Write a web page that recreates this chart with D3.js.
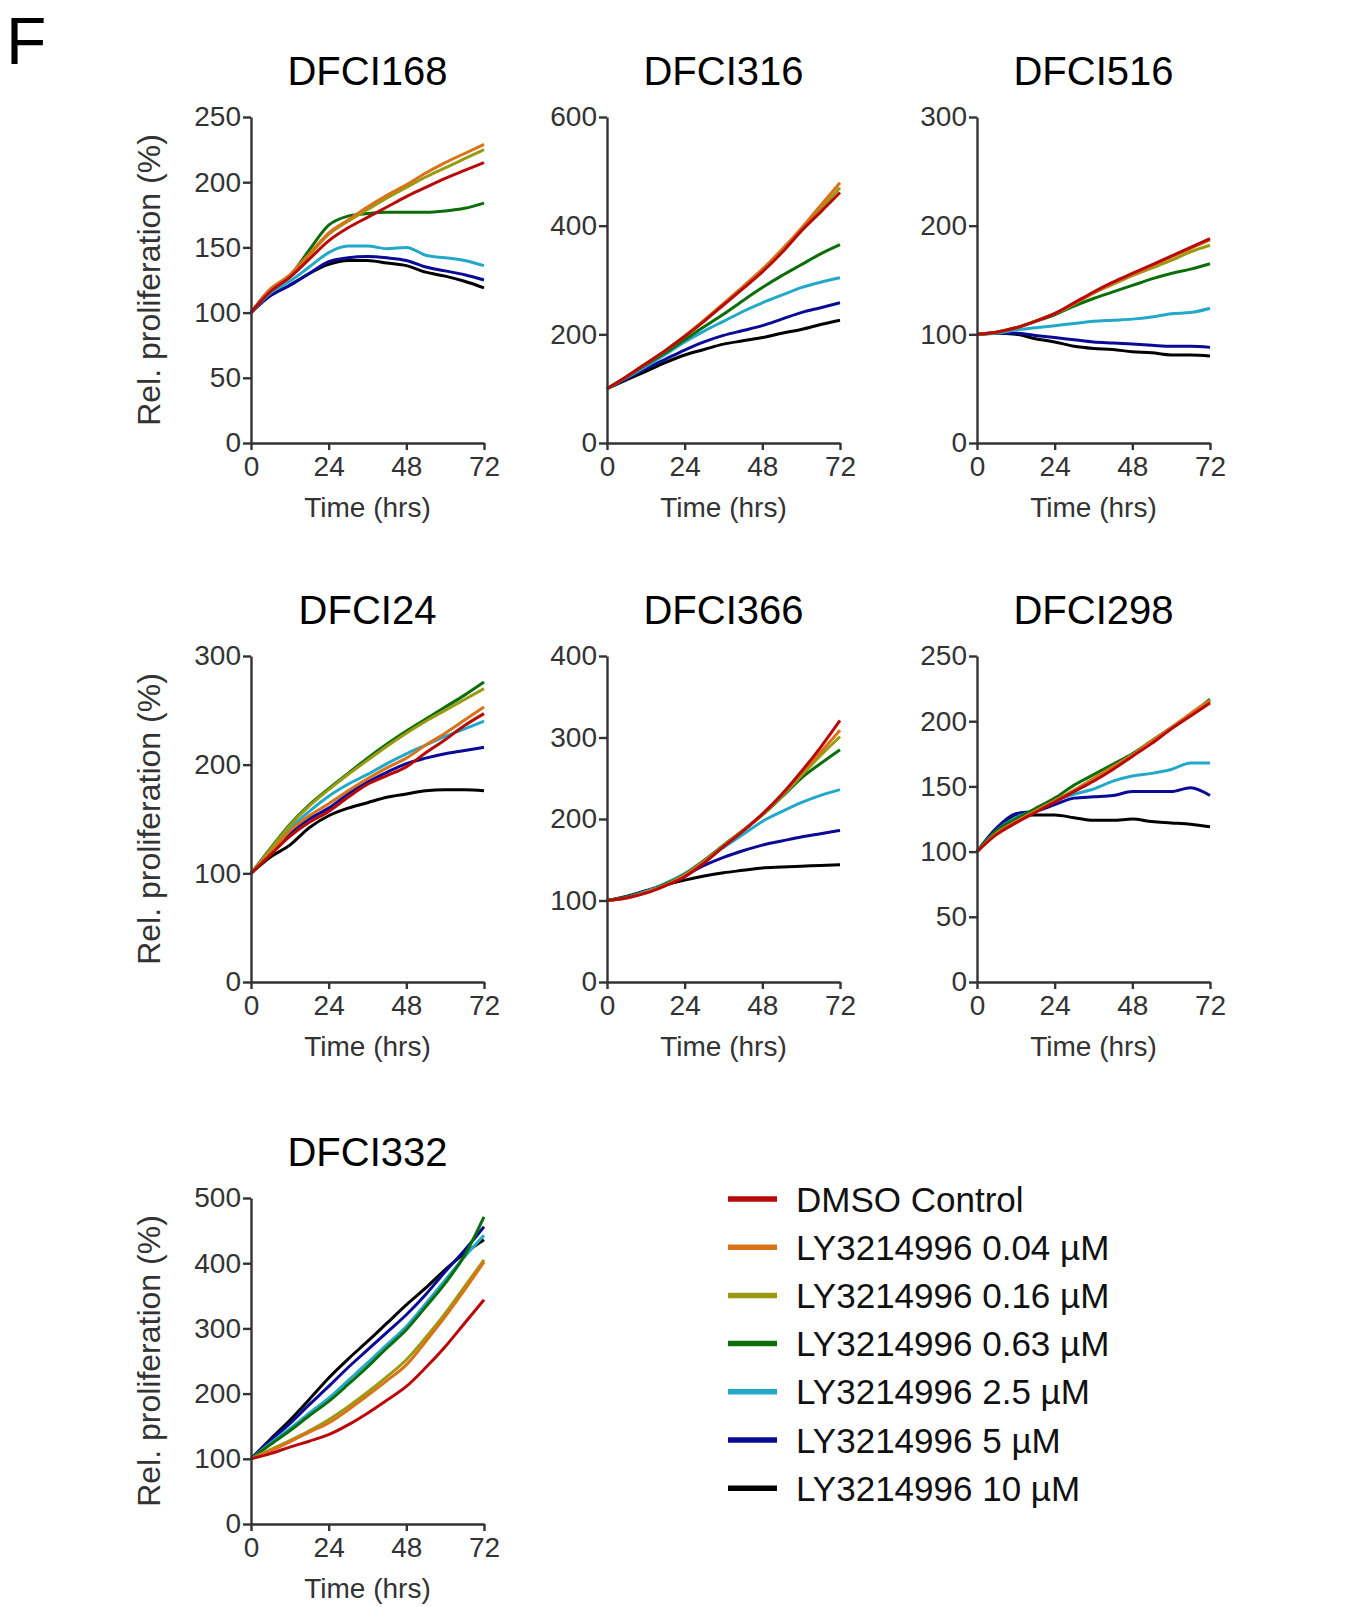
<!DOCTYPE html>
<html>
<head>
<meta charset="utf-8">
<script src="https://cdn.jsdelivr.net/npm/d3@7"></script>
<style>
  body { margin: 0; background: #fff; }
  svg { display: block; font-family: "Liberation Sans", Arial, sans-serif; }
</style>
</head>
<body>
<svg id="fig" width="1352" height="1607"></svg>
<script>
// time points (hrs) shared by every series
const hours = [0, 6, 12, 18, 24, 30, 36, 42, 48, 54, 60, 66, 72];
const xTicks = [0, 24, 48, 72];

const seriesNames = ["DMSO Control", "LY3214996 0.04 µM", "LY3214996 0.16 µM", "LY3214996 0.63 µM",
                     "LY3214996 2.5 µM", "LY3214996 5 µM", "LY3214996 10 µM"];
const seriesColors = ["#b80a0a", "#d9731a", "#9a9a12", "#0b6e0b", "#22a9c9", "#0a0a96", "#000000"];

// one row per series, same order as seriesNames
const dfci168 = [
  [100, 116, 127, 141, 155, 165, 173, 181, 189, 196, 203, 209, 215],
  [100, 118, 129, 145, 161, 171, 181, 190, 198, 207, 215, 222, 229],
  [100, 118, 128, 144, 160, 170, 179, 188, 196, 204, 211, 218, 225],
  [100, 118, 128, 148, 167, 174, 176, 177, 177, 177, 178, 180, 184],
  [100, 115, 124, 135, 146, 151, 151, 149, 150, 144, 142, 140, 136],
  [100, 113, 121, 130, 139, 142, 143, 142, 140, 135, 132, 129, 125],
  [100, 113, 121, 130, 137, 140, 140, 138, 136, 131, 128, 124, 119]
];
const dfci316 = [
  [100, 122, 146, 170, 196, 224, 254, 284, 315, 350, 390, 425, 461],
  [100, 122, 146, 170, 197, 226, 257, 288, 320, 356, 395, 437, 479],
  [100, 122, 146, 170, 196, 225, 255, 286, 317, 352, 390, 430, 470],
  [100, 121, 144, 166, 190, 214, 237, 262, 286, 308, 328, 348, 365],
  [100, 120, 141, 163, 186, 206, 224, 242, 258, 272, 286, 296, 304],
  [100, 118, 137, 154, 171, 186, 198, 207, 216, 228, 240, 249, 258],
  [100, 116, 132, 148, 162, 172, 182, 188, 194, 202, 209, 218, 226]
];
const dfci516 = [
  [100, 102, 106, 112, 119, 129, 139, 148, 156, 164, 172, 180, 188],
  [100, 102, 106, 112, 119, 128, 138, 147, 155, 163, 171, 179, 187],
  [100, 102, 106, 112, 119, 128, 138, 146, 154, 161, 168, 176, 182],
  [100, 102, 106, 112, 118, 126, 133, 139, 145, 151, 156, 160, 165],
  [100, 101, 104, 106, 108, 110, 112, 113, 114, 116, 119, 120, 124],
  [100, 101, 101, 99, 97, 95, 93, 92, 91, 90, 89, 89, 88],
  [100, 101, 100, 96, 93, 89, 87, 86, 84, 83, 81, 81, 80]
];
const dfci24 = [
  [100, 117, 134, 147, 157, 170, 182, 190, 198, 211, 223, 236, 247],
  [100, 119, 139, 153, 164, 176, 187, 197, 206, 218, 229, 241, 253],
  [100, 122, 144, 162, 177, 191, 204, 217, 229, 240, 250, 260, 270],
  [100, 123, 145, 163, 178, 192, 206, 219, 231, 242, 253, 264, 276],
  [100, 120, 141, 157, 171, 182, 191, 201, 210, 218, 226, 233, 240],
  [100, 119, 137, 150, 160, 173, 184, 193, 201, 206, 210, 213, 216],
  [100, 115, 126, 142, 153, 160, 165, 170, 173, 176, 177, 177, 176]
];
const dfci366 = [
  [100, 103, 109, 118, 129, 146, 166, 185, 206, 230, 258, 288, 321],
  [100, 103, 110, 119, 131, 148, 167, 186, 206, 230, 256, 282, 309],
  [100, 103, 110, 119, 131, 148, 167, 186, 205, 228, 253, 278, 301],
  [100, 104, 110, 120, 132, 149, 168, 186, 205, 227, 250, 268, 285],
  [100, 104, 111, 121, 133, 149, 165, 181, 197, 209, 220, 229, 236],
  [100, 104, 111, 120, 131, 143, 153, 161, 168, 173, 178, 182, 186],
  [100, 105, 112, 119, 125, 130, 134, 137, 140, 141, 142, 143, 144]
];
const dfci298 = [
  [100, 113, 122, 130, 138, 146, 154, 163, 173, 183, 194, 204, 214],
  [100, 114, 123, 131, 139, 147, 156, 165, 174, 185, 195, 206, 216],
  [100, 114, 123, 131, 139, 147, 156, 165, 174, 184, 195, 205, 215],
  [100, 116, 125, 133, 141, 151, 159, 167, 175, 185, 195, 205, 217],
  [100, 116, 126, 132, 139, 144, 148, 154, 158, 160, 163, 168, 168],
  [100, 118, 129, 131, 136, 141, 142, 143, 146, 146, 146, 149, 143],
  [100, 117, 127, 128, 128, 126, 124, 124, 125, 123, 122, 121, 119]
];
const dfci332 = [
  [100, 108, 118, 127, 137, 152, 170, 190, 211, 240, 272, 308, 344],
  [100, 112, 126, 141, 155, 175, 197, 220, 244, 280, 318, 359, 402],
  [100, 114, 128, 143, 160, 180, 202, 226, 252, 286, 323, 364, 405],
  [100, 122, 143, 166, 188, 214, 241, 270, 298, 333, 369, 412, 471],
  [100, 124, 146, 170, 193, 220, 247, 275, 303, 338, 374, 410, 443],
  [100, 128, 154, 183, 211, 240, 267, 294, 321, 352, 387, 420, 456],
  [100, 130, 159, 191, 224, 253, 280, 308, 336, 362, 390, 415, 436]
];

const panelNames = ["DFCI168", "DFCI316", "DFCI516", "DFCI24", "DFCI366", "DFCI298", "DFCI332"];
const panelData = [dfci168, dfci316, dfci516, dfci24, dfci366, dfci298, dfci332];
const panelYTicks = [
  [0, 50, 100, 150, 200, 250],
  [0, 200, 400, 600],
  [0, 100, 200, 300],
  [0, 100, 200, 300],
  [0, 100, 200, 300, 400],
  [0, 50, 100, 150, 200, 250],
  [0, 100, 200, 300, 400, 500]
];

// layout
const colX = [251, 607, 977];
const rowY = [117, 656, 1198];
const plotW = 233, plotH = 326;
const panelCell = [[0, 0], [1, 0], [2, 0], [0, 1], [1, 1], [2, 1], [0, 2]];
const axisColor = "#333";

const svg = d3.select("#fig");
svg.append("rect").attr("width", 1352).attr("height", 1607).attr("fill", "#fff");

svg.append("text")
  .attr("x", 6).attr("y", 64)
  .attr("font-size", 66)
  .attr("fill", "#000")
  .text("F");

panelNames.forEach((name, i) => {
  const [c, r] = panelCell[i];
  const g = svg.append("g").attr("transform", `translate(${colX[c]},${rowY[r]})`);
  const yTicks = panelYTicks[i];

  const x = d3.scaleLinear().domain([0, 72]).range([0, plotW]);
  const y = d3.scaleLinear().domain([0, d3.max(yTicks)]).range([plotH, 0]);

  const line = d3.line()
    .x((d, k) => x(hours[k]))
    .y(d => y(d))
    .curve(d3.curveMonotoneX);

  // draw black first so control ends up on top
  const rows = panelData[i].map((vals, s) => ({ vals, s })).reverse();
  g.selectAll("path.series")
    .data(rows)
    .join("path")
    .attr("class", "series")
    .attr("d", d => line(d.vals))
    .attr("fill", "none")
    .attr("stroke", d => seriesColors[d.s])
    .attr("stroke-width", 3)
    .attr("stroke-linejoin", "round");

  const xAxis = g.append("g")
    .attr("transform", `translate(0,${plotH})`)
    .call(d3.axisBottom(x).tickValues(xTicks).tickSize(7).tickSizeOuter(0).tickPadding(6));
  const yAxis = g.append("g")
    .call(d3.axisLeft(y).tickValues(yTicks).tickSize(8).tickSizeOuter(0).tickPadding(2));

  [xAxis, yAxis].forEach(a => {
    a.select(".domain").attr("stroke", axisColor).attr("stroke-width", 2.4);
    a.selectAll(".tick line").attr("stroke", axisColor).attr("stroke-width", 2.4);
    a.selectAll(".tick text")
      .attr("font-size", 28)
      .attr("font-family", "Liberation Sans, Arial, sans-serif")
      .attr("fill", axisColor);
  });

  g.append("text")
    .attr("x", plotW / 2).attr("y", -32)
    .attr("text-anchor", "middle")
    .attr("font-size", 40)
    .attr("fill", "#000")
    .text(name);

  g.append("text")
    .attr("x", plotW / 2).attr("y", plotH + 74)
    .attr("text-anchor", "middle")
    .attr("font-size", 28)
    .attr("fill", axisColor)
    .text("Time (hrs)");

  if (c === 0) {
    g.append("text")
      .attr("transform", `translate(-91,${plotH / 2}) rotate(-90)`)
      .attr("text-anchor", "middle")
      .attr("font-size", 32)
      .attr("fill", axisColor)
      .text("Rel. proliferation (%)");
  }
});

// legend
const legend = svg.append("g").attr("transform", "translate(728,1199)");
const legendRow = legend.selectAll("g")
  .data(seriesNames)
  .join("g")
  .attr("transform", (d, k) => `translate(0,${k * 48.2})`);
legendRow.append("line")
  .attr("x1", 0).attr("x2", 49)
  .attr("stroke", (d, k) => seriesColors[k])
  .attr("stroke-width", 5.5);
legendRow.append("text")
  .attr("x", 68).attr("dy", "0.36em")
  .attr("font-size", 35)
  .attr("fill", "#111")
  .text(d => d);
</script>
</body>
</html>
